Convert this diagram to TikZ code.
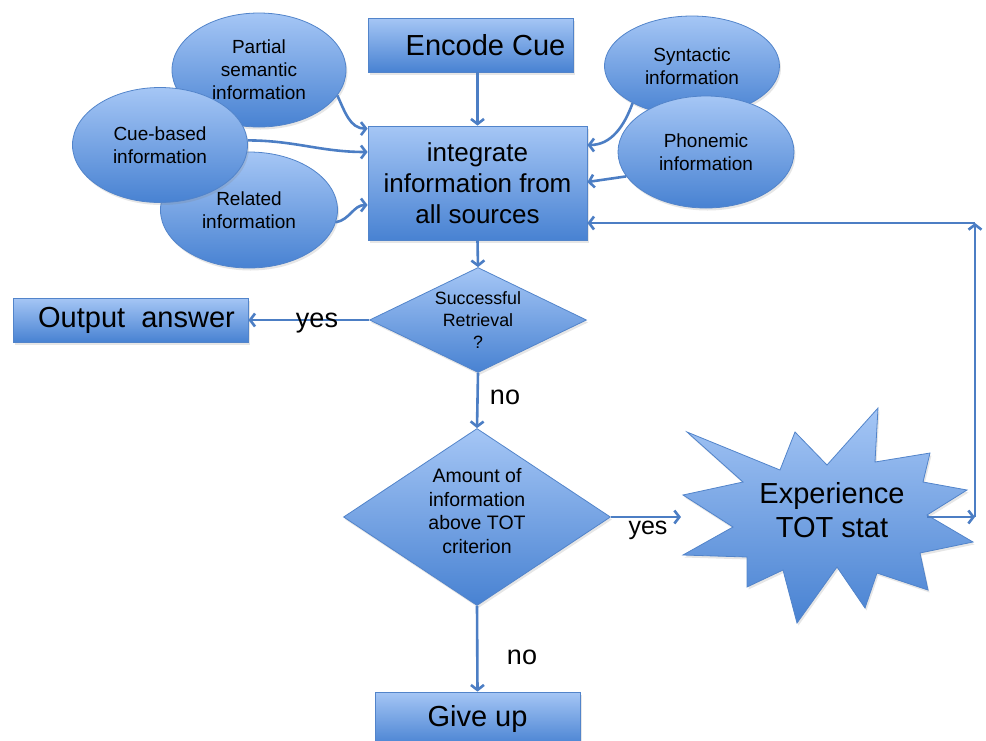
\documentclass[tikz,border=0pt]{standalone}
\usepackage{fontspec}
\setmainfont{Liberation Sans}
\usetikzlibrary{shapes.geometric,arrows.meta,shadows}
\definecolor{cTop}{RGB}{165,198,245}
\definecolor{cBot}{RGB}{72,130,210}
\definecolor{cEdge}{RGB}{82,132,202}
\definecolor{cArrow}{RGB}{76,126,196}
\begin{document}
\begin{tikzpicture}[x=1pt,y=-1pt,
  bluefill/.style={top color=cTop,bottom color=cBot,draw=cEdge,line width=0.8pt,
    drop shadow={opacity=0.2,shadow xshift=1.5pt,shadow yshift=-2.5pt}},
  boxnode/.style={bluefill,rectangle,inner sep=0pt,align=center},
  ellnode/.style={bluefill,ellipse,inner sep=0pt,align=center,font=\fontsize{19}{23}\selectfont},
  dia/.style={bluefill,diamond,inner sep=0pt,align=center},
  arr/.style={draw=cArrow,line width=2.6pt,-{Straight Barb[length=5pt,width=13pt]}},
  lbl/.style={font=\fontsize{27}{30}\selectfont,inner sep=0pt}
]
\useasboundingbox (0,0) rectangle (986,740);

% boxes
\node[boxnode,minimum width=205pt,minimum height=54pt,font=\fontsize{29}{33}\selectfont] (enc) at (470.5,45) {\hspace*{30pt}Encode Cue};
\node[boxnode,minimum width=219pt,minimum height=114pt,font=\fontsize{26}{31}\selectfont] (int) at (477.5,183) {integrate\\information from\\all sources};

% left ellipses
\node[ellnode,minimum width=174pt,minimum height=114pt] (ps) at (259,70) {Partial\\semantic\\information};
\node[ellnode,minimum width=177pt,minimum height=116pt] (rel) at (249,210) {Related\\information};
\node[ellnode,minimum width=175pt,minimum height=115pt] (cb) at (160,145) {Cue-based\\information};

% right ellipses
\node[ellnode,minimum width=175pt,minimum height=100pt] (syn) at (692,66) {Syntactic\\information};
\node[ellnode,minimum width=176pt,minimum height=112pt] (ph) at (706,152) {Phonemic\\information};

% decisions
\node[dia,minimum width=217pt,minimum height=105pt,shape aspect=2.07,font=\fontsize{17.8}{22}\selectfont] (succ) at (478,320) {Successful\\Retrieval\\?};
\node[dia,minimum width=267pt,minimum height=177pt,shape aspect=1.51,font=\fontsize{19.5}{23.5}\selectfont] (amt) at (477,517) {Amount of\\information\\above TOT\\criterion\\[-11.5pt]};

\node[boxnode,minimum width=235pt,minimum height=44pt,font=\fontsize{29}{33}\selectfont] (out) at (130.5,320) {\hspace*{12pt}Output~~answer};
\node[boxnode,minimum width=205pt,minimum height=54pt,font=\fontsize{29}{33}\selectfont] (give) at (477.5,719) {Give up};

% star
\path[bluefill] (687,432) -- (780,470) -- (795,432) -- (827,465) -- (878,408) -- (875,462)
  -- (930,453) -- (923,482) -- (967,490) -- (927,515) -- (973,542) -- (920,553)
  -- (928,590) -- (877,573) -- (865,608) -- (837,567) -- (797,623) -- (783,570)
  -- (747,587) -- (747,557) -- (683,555) -- (733,527) -- (683,495) -- (743,482) -- cycle;
\node[align=center,inner sep=0pt,font=\fontsize{29}{34}\selectfont] (tot) at (832,510) {Experience\\TOT stat};
\coordinate (sl) at (681,517);
\coordinate (sr) at (927,517);
\coordinate (c1) at (975,517);
\coordinate (c2) at (975,223);

% connectors
\draw[arr] (int.north |- enc.south) -- (int.north);
\draw[arr] (ps.-18) to[out=-65,in=180] ([yshift=-3pt]int.north west);
\draw[arr] (cb.3) to[out=0,in=180] ([yshift=31pt]int.west);
\draw[arr] (rel.-8) to[out=10,in=180] ([yshift=-22pt]int.west);
\draw[arr] (syn.212) to[out=-110,in=0] ([yshift=38pt]int.east);
\draw[arr] (ph.197) -- ([yshift=1pt]int.east);
\draw[arr] (int.south) -- (succ.north);
\draw[arr] (succ.west) -- (out.east);
\draw[arr] (succ.south) -- (amt.north);
\draw[arr] (amt.east) -- (sl);
\draw[arr] (amt.south) -- (give.north);
\draw[arr] (sr) -- (c1);
\draw[arr] (c1) -- (c2);
\draw[arr] (c2) -- (int.east |- c2);

% labels
\node[lbl] (yes1) at (317,323) {yes};
\node[lbl] (no1) at (505,397) {no};
\node[lbl,font=\fontsize{25}{28}\selectfont] (yes2) at (648,530) {yes};
\node[lbl] (no2) at (522,657) {no};
\end{tikzpicture}
\end{document}
